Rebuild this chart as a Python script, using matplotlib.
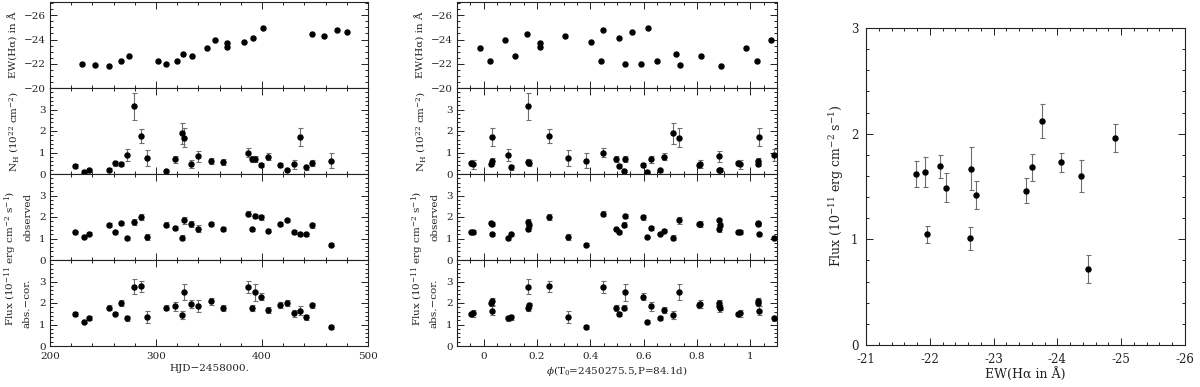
import matplotlib
matplotlib.use('Agg')
import matplotlib.pyplot as plt
import numpy as np
from matplotlib.ticker import MultipleLocator, FuncFormatter

plt.rcParams['font.family'] = ['DejaVu Serif']
plt.rcParams['mathtext.fontset'] = 'dejavuserif'
plt.rcParams['font.size'] = 7.5

# H-alpha equivalent widths (HJD-2458000, EW in Angstrom)
ew_hjd = [230.5, 242.8, 255.7, 267.0, 274.8, 301.9, 309.7, 319.8, 325.8, 333.6, 347.8,
          355.7, 367.0, 367.0, 383.0, 391.8, 401.0, 446.9, 458.8, 470.8, 479.9]
ew_val = [-22.02, -21.86, -21.83, -22.19, -22.68, -22.19, -21.97, -22.27, -22.79, -22.68, -23.33,
          -23.99, -23.72, -23.42, -23.83, -24.13, -24.97, -24.43, -24.29, -24.78, -24.62]

# X-ray observations
xr_hjd = [223.6, 232.4, 236.5, 255.3, 261.0, 267.3, 272.6, 278.9, 285.5, 291.5,
          309.4, 317.9, 324.8, 326.7, 333.3, 339.3, 351.6, 363.2, 386.8, 390.9,
          393.6, 399.4, 406.0, 417.0, 423.3, 429.9, 435.8, 441.8, 447.5, 465.4]
nh = [0.38, 0.11, 0.17, 0.20, 0.49, 0.46, 0.88, 3.14, 1.75, 0.75,
      0.14, 0.69, 1.89, 1.69, 0.45, 0.83, 0.60, 0.57, 1.00, 0.69,
      0.69, 0.42, 0.80, 0.42, 0.18, 0.45, 1.72, 0.31, 0.52, 0.62]
nh_err = [0.10, 0.05, 0.06, 0.06, 0.12, 0.08, 0.27, 0.63, 0.33, 0.38,
          0.05, 0.17, 0.49, 0.43, 0.18, 0.25, 0.15, 0.14, 0.22, 0.13,
          0.13, 0.10, 0.17, 0.10, 0.04, 0.20, 0.40, 0.12, 0.15, 0.35]
f_obs = [1.28, 1.06, 1.21, 1.62, 1.28, 1.70, 1.01, 1.76, 1.99, 1.07,
         1.65, 1.49, 1.03, 1.84, 1.68, 1.46, 1.68, 1.46, 2.15, 1.43,
         2.05, 1.98, 1.37, 1.66, 1.84, 1.31, 1.20, 1.20, 1.62, 0.72]
f_obs_err = [0.07, 0.05, 0.07, 0.10, 0.07, 0.08, 0.08, 0.15, 0.13, 0.13,
             0.10, 0.10, 0.11, 0.18, 0.13, 0.15, 0.09, 0.09, 0.12, 0.08,
             0.10, 0.10, 0.08, 0.10, 0.09, 0.09, 0.07, 0.07, 0.11, 0.08]
f_cor = [1.48, 1.12, 1.31, 1.79, 1.51, 2.01, 1.28, 2.75, 2.77, 1.34,
         1.79, 1.85, 1.45, 2.52, 1.96, 1.85, 2.07, 1.77, 2.74, 1.77,
         2.49, 2.30, 1.68, 1.90, 1.99, 1.52, 1.65, 1.34, 1.90, 0.87]
f_cor_err = [0.10, 0.07, 0.10, 0.10, 0.06, 0.13, 0.13, 0.35, 0.27, 0.28,
             0.13, 0.20, 0.20, 0.38, 0.20, 0.27, 0.15, 0.13, 0.28, 0.13,
             0.38, 0.15, 0.15, 0.13, 0.14, 0.17, 0.20, 0.12, 0.12, 0.10]

# Near-simultaneous pairs: EW vs observed flux
pair_ew = [-21.79, -21.93, -21.96, -22.16, -22.25, -22.63, -22.64, -22.72,
           -23.51, -23.60, -23.76, -24.06, -24.37, -24.48, -24.91]
pair_flux = [1.62, 1.64, 1.05, 1.69, 1.49, 1.01, 1.67, 1.42,
             1.46, 1.68, 2.12, 1.73, 1.60, 0.72, 1.96]
pair_err = [0.12, 0.14, 0.08, 0.11, 0.14, 0.11, 0.20, 0.13,
            0.12, 0.13, 0.16, 0.09, 0.15, 0.13, 0.13]

T0 = 2450275.5
PERIOD = 84.1
HJD0 = 2458000.0

W, H = 1200, 387
fig = plt.figure(figsize=(W / 100, H / 100), dpi=100)

ink = '#222222'
ebar = dict(fmt='o', color='k', ms=3.6, ecolor='#6e6e6e', elinewidth=0.8,
            capsize=1.8, capthick=0.8, zorder=3)


def frac(x0, y0, x1, y1):
    return [x0 / W, 1 - y1 / H, (x1 - x0) / W, (y1 - y0) / H]


def style(ax, xmin, ymin, size=7.5, xpad=4.5, ypad=3):
    ax.tick_params(which='both', direction='in', top=True, right=True, colors=ink,
                   labelcolor=ink, width=0.7, labelsize=size)
    ax.tick_params(which='major', length=5)
    ax.tick_params(axis='x', which='major', pad=xpad)
    ax.tick_params(axis='y', which='major', pad=ypad)
    ax.tick_params(which='minor', length=2.5)
    ax.xaxis.set_minor_locator(MultipleLocator(xmin))
    ax.yaxis.set_minor_locator(MultipleLocator(ymin))
    for s in ax.spines.values():
        s.set_color(ink)
        s.set_linewidth(0.8)


def phase_fold(hjd, *cols):
    ph = ((np.asarray(hjd) + HJD0 - T0) / PERIOD) % 1.0
    cols = [np.asarray(c) for c in cols]
    lo = ph < 0.1
    hi = ph > 0.9
    out_ph = np.concatenate([ph, ph[lo] + 1, ph[hi] - 1])
    out = [np.concatenate([c, c[lo], c[hi]]) for c in cols]
    return [out_ph] + out


def vtext(x, y, s, size=7.5):
    fig.text(x / W, 1 - y / H, s, rotation=90, ha='center', va='center',
             color=ink, fontsize=size)


gfmt = FuncFormatter(lambda v, p: '%g' % v if abs(v) > 1e-9 else '0')

panels_y = [(2, 88), (88, 174), (174, 260), (260, 346)]

for col, (x0, x1) in enumerate([(50, 368), (457, 777)]):
    axes = [fig.add_axes(frac(x0, a, x1, b)) for a, b in panels_y]
    if col == 0:
        axes[0].plot(ew_hjd, ew_val, 'o', color='k', ms=3.6, zorder=3)
        for ax, v, e in zip(axes[1:], [nh, f_obs, f_cor], [nh_err, f_obs_err, f_cor_err]):
            ax.errorbar(xr_hjd, v, yerr=e, **ebar)
        xlim, xmaj, xmin = (200, 500), 100, 20
        xlabel = 'HJD\u22122458000.'
    else:
        pe, ve = phase_fold(ew_hjd, ew_val)
        axes[0].plot(pe, ve, 'o', color='k', ms=3.6, zorder=3)
        px, n1, n1e, o1, o1e, c1, c1e = phase_fold(xr_hjd, nh, nh_err, f_obs, f_obs_err,
                                                   f_cor, f_cor_err)
        for ax, v, e in zip(axes[1:], [n1, o1, c1], [n1e, o1e, c1e]):
            ax.errorbar(px, v, yerr=e, **ebar)
        xlim, xmaj, xmin = (-0.1, 1.1), 0.2, 0.05
        xlabel = r'$\phi$(T$_0$=2450275.5,P=84.1d)'

    for i, ax in enumerate(axes):
        ax.set_xlim(*xlim)
        ax.xaxis.set_major_locator(MultipleLocator(xmaj))
        if i == 0:
            ax.set_ylim(-20, -27.1)
            ax.set_yticks([-20, -22, -24, -26])
            style(ax, xmin, 0.5)
        else:
            ax.set_ylim(0, 4)
            ax.set_yticks([0, 1, 2, 3])
            style(ax, xmin, 0.2)
        if i < 3:
            ax.tick_params(labelbottom=False)
    axes[3].xaxis.set_major_formatter(gfmt)
    axes[3].set_xlabel(xlabel, color=ink, labelpad=2)

    vtext(x0 - 37, 45, 'EW(H\u03b1) in \u00c5')
    vtext(x0 - 36, 131, r'N$_\mathrm{H}$ (10$^{22}$ cm$^{-2}$)')
    vtext(x0 - 39, 258, r'Flux (10$^{-11}$ erg cm$^{-2}$ s$^{-1}$)')
    vtext(x0 - 22, 217, 'observed')
    vtext(x0 - 23, 303, 'abs.\u2212cor.')

# right panel: flux against EW
ax = fig.add_axes(frac(866, 28, 1185, 345))
ax.errorbar(pair_ew, pair_flux, yerr=pair_err, **ebar)
ax.set_xlim(-21, -26)
ax.set_ylim(0, 3)
ax.xaxis.set_major_locator(MultipleLocator(1))
ax.yaxis.set_major_locator(MultipleLocator(1))
style(ax, 0.2, 0.2, size=8.5, xpad=5.5, ypad=5.5)
ax.xaxis.set_major_formatter(gfmt)
ax.yaxis.set_major_formatter(gfmt)
ax.set_xlabel('EW(H\u03b1 in \u00c5)', color=ink, labelpad=1, fontsize=9)
vtext(837, 186, r'Flux (10$^{-11}$ erg cm$^{-2}$ s$^{-1}$)', size=9)

fig.savefig('out.png', dpi=100)
